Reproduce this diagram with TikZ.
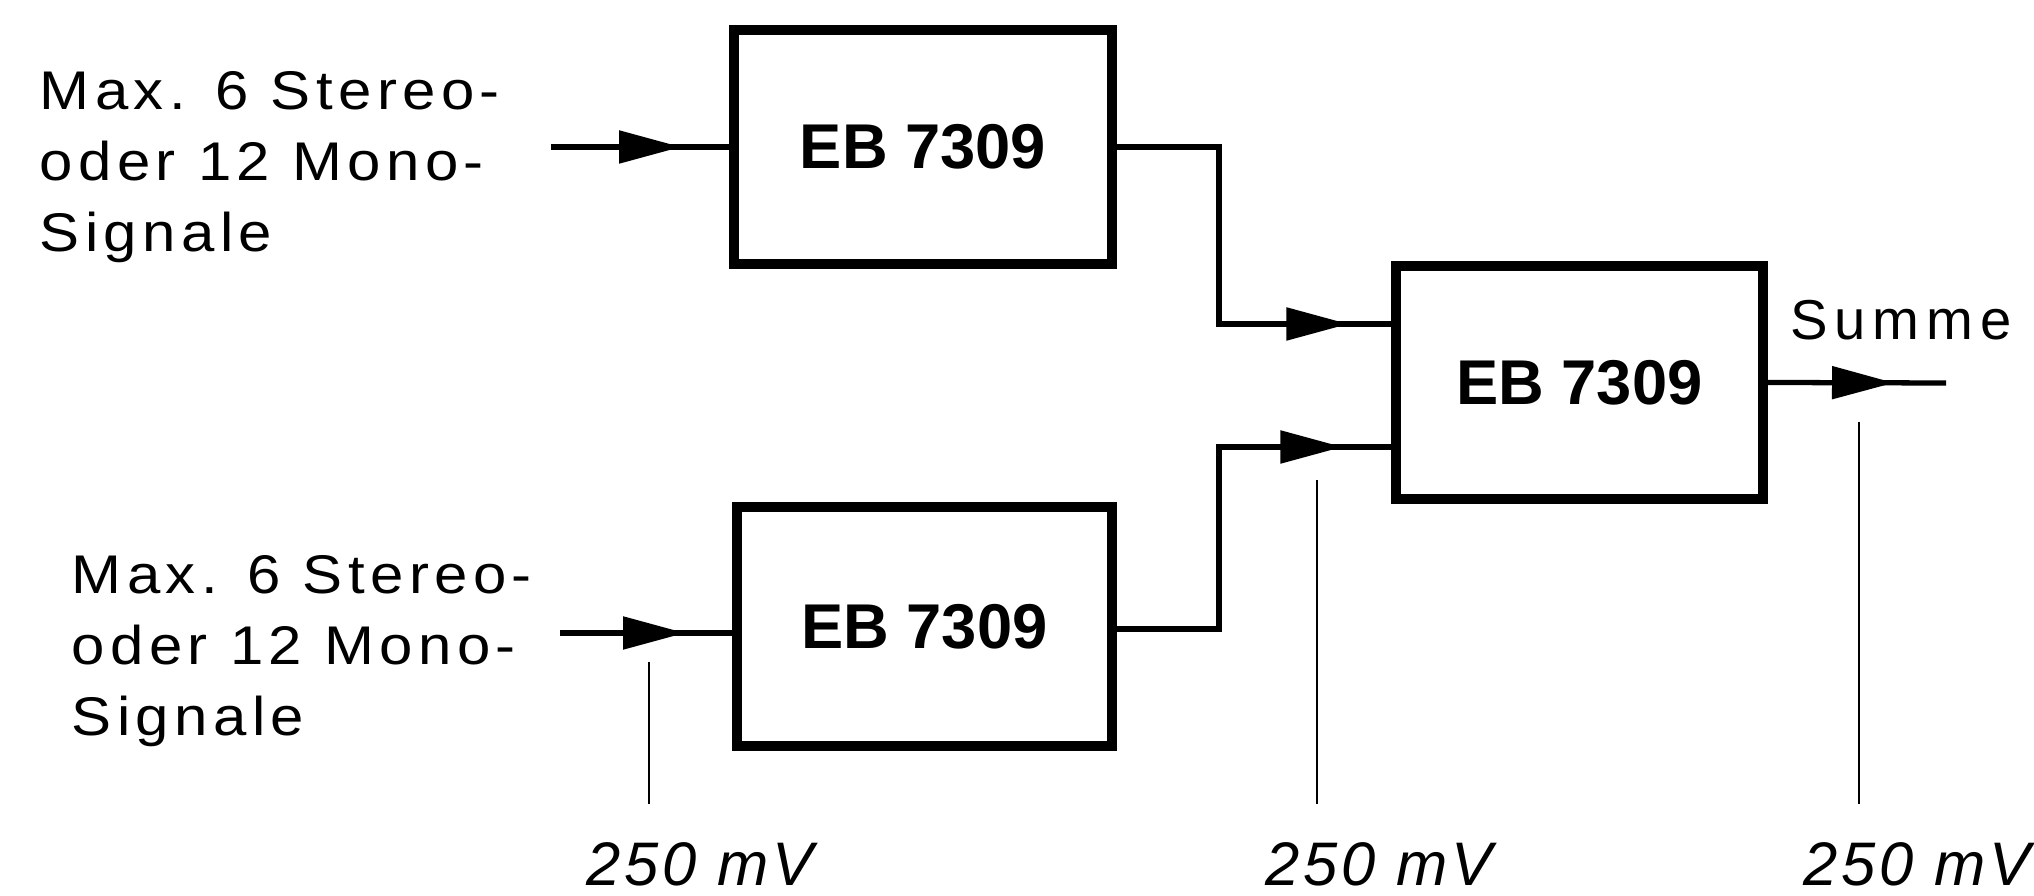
\documentclass[tikz,border=0pt]{standalone}
\usepackage{fontspec}
\setmainfont{Liberation Sans}
\newfontfamily\widesans[FakeStretch=1.1, LetterSpace=10]{Liberation Sans}
\newfontfamily\sumsans[LetterSpace=12]{Liberation Sans}
\newfontfamily\mvsans[LetterSpace=6]{Liberation Sans}
\usetikzlibrary{arrows.meta,decorations.markings}
\begin{document}
\begin{tikzpicture}[x=1cm,y=1cm,
  blockbox/.style={draw, line width=2.6pt, inner sep=0pt,
    font=\fontsize{18}{20}\selectfont\bfseries},
  wire/.style={line width=1.5pt},
  arrowat/.style={postaction={decorate}, decoration={markings,
    mark=at position #1 with {\arrow{Triangle[length=0.62cm,width=0.32cm]}}}},
  measline/.style={line width=0.7pt},
  intext/.style={anchor=north west, align=left, inner sep=0pt,
    font=\fontsize{15.5}{20.2}\selectfont\widesans},
  mvlabel/.style={anchor=base, inner sep=0pt, font=\fontsize{17.5}{20}\selectfont\mvsans\itshape}
]
\useasboundingbox (0,0) rectangle (20.34,-8.96);

\node[blockbox, minimum width=3.78cm, minimum height=2.34cm] (b1) at (9.23,-1.47) {EB 7309};
\node[blockbox, minimum width=3.75cm, minimum height=2.39cm] (b2) at (9.245,-6.265) {EB 7309};
\node[blockbox, minimum width=3.67cm, minimum height=2.33cm] (b3) at (15.795,-3.825) {EB 7309};

\node[intext] (t1) at (0.39,-0.71) {Max. 6 Stereo-\\oder 12 Mono-\\Signale};
\node[intext] (t2) at (0.71,-5.55) {Max. 6 Stereo-\\oder 12 Mono-\\Signale};
\node[anchor=base west, inner sep=0pt, font=\fontsize{16}{20}\selectfont\sumsans] (sum) at (17.90,-3.40) {Summe};

\coordinate (in1) at (5.51,-1.47);
\coordinate (in2) at (5.60,-6.33);
\coordinate (k1) at (12.19,-1.47);
\coordinate (k2) at (12.19,-3.24);
\coordinate (k3) at (12.19,-6.29);
\coordinate (k4) at (12.19,-4.47);
\coordinate (out) at (19.46,-3.83);

\draw[wire, arrowat=1.3cm] (in1) -- (b1.west);
\draw[wire, arrowat=1.25cm] (in2) -- (in2 -| b2.west);
\draw[wire, arrowat=-0.43cm] (b1.east) -- (k1) -- (k2) -- (k2 -| b3.west);
\draw[wire, arrowat=-0.49cm] (k3 -| b2.east) -- (k3) -- (k4) -- (k4 -| b3.west);
\draw[wire, arrowat=-0.52cm] (b3.east) -- (out);

\coordinate (m1t) at (6.49,-6.62); \coordinate (m1b) at (6.49,-8.04);
\coordinate (m2t) at (13.17,-4.80); \coordinate (m2b) at (13.17,-8.04);
\coordinate (m3t) at (18.59,-4.22); \coordinate (m3b) at (18.59,-8.04);
\draw[measline] (m1t) -- (m1b);
\draw[measline] (m2t) -- (m2b);
\draw[measline] (m3t) -- (m3b);

\node[mvlabel] (v1) at (7.00,-8.86) {250 mV};
\node[mvlabel] (v2) at (13.79,-8.86) {250 mV};
\node[mvlabel] (v3) at (19.17,-8.86) {250 mV};
\end{tikzpicture}
\end{document}
